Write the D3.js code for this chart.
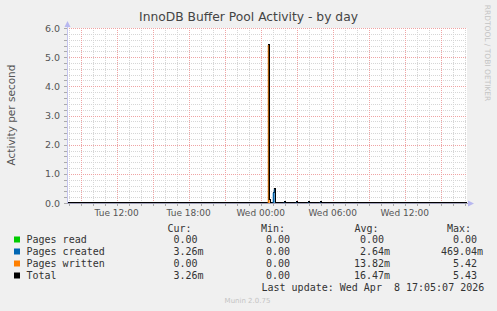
<!DOCTYPE html>
<html>
<head>
<meta charset="utf-8">
<script src="https://cdn.jsdelivr.net/npm/d3@7"></script>
<style>
  html, body { margin: 0; padding: 0; background: #f0f0f0; }
  text { white-space: pre; }
</style>
</head>
<body>
<div id="chart"></div>
<script>
// --- data (5 minute samples, zero elsewhere) ---
const sampleTimes = ['2026-04-08T00:40', '2026-04-08T00:45', '2026-04-08T01:05', '2026-04-08T01:10',
  '2026-04-08T02:00', '2026-04-08T03:00', '2026-04-08T04:00', '2026-04-08T05:00', '2026-04-08T17:10'];
const pagesRead = [0, 0, 0, 0, 0, 0, 0, 0, 0];
const pagesCreated = [0.01, 0, 0.35, 0.469, 0.025, 0.025, 0.025, 0.025, 0.00326];
const pagesWritten = [5.42, 0.1, 0, 0, 0, 0, 0, 0, 0];

const seriesNames = ['Pages read', 'Pages created', 'Pages written', 'Total'];
const seriesColors = ['#00cc00', '#0066b3', '#ff8000', '#000000'];
const legendCur = [0, 0.00326, 0, 0.00326];
const legendMin = [0, 0, 0, 0];
const legendAvg = [0, 0.00264, 0.01382, 0.01647];
const legendMax = [0, 0.46904, 5.42, 5.43];

const yTicks = [0, 1, 2, 3, 4, 5, 6];
const timeStart = new Date('2026-04-07T07:51:30');
const timeEnd = new Date('2026-04-08T17:11:30');
const lastUpdate = 'Last update: Wed Apr  8 17:05:07 2026';

const width = 497;
const height = 311;
const plot = {left: 67, right: 467, top: 28, bottom: 203};

const svg = d3.select('#chart')
  .append('svg')
  .attr('width', width)
  .attr('height', height)
  .style('display', 'block');

svg.append('rect')
  .attr('width', width)
  .attr('height', height)
  .attr('fill', '#f0f0f0');

const x = d3.scaleTime().domain([timeStart, timeEnd]).range([plot.left, plot.right]);
const y = d3.scaleLinear().domain([0, 6]).range([plot.bottom, plot.top]);

svg.append('rect')
  .attr('x', plot.left)
  .attr('y', plot.top)
  .attr('width', plot.right - plot.left)
  .attr('height', plot.bottom - plot.top)
  .attr('fill', '#ffffff');

// grid
const grid = svg.append('g').attr('shape-rendering', 'crispEdges');
const minorY = d3.range(0, 6.0001, 0.2).filter(v => Math.abs(v - Math.round(v)) > 1e-6);
const minorX = x.ticks(d3.timeHour.every(1)).filter(t => t.getHours() % 3 !== 0);
const majorX = x.ticks(d3.timeHour.every(3));
const minorColor = '#d6d6d6';
const majorColor = '#efa4a4';

grid.selectAll('.minor-y').data(minorY).enter().append('line')
  .attr('x1', plot.left).attr('x2', plot.right)
  .attr('y1', d => Math.round(y(d)) + 0.5).attr('y2', d => Math.round(y(d)) + 0.5)
  .attr('stroke', minorColor).attr('stroke-dasharray', '1,1');
grid.selectAll('.minor-x').data(minorX).enter().append('line')
  .attr('x1', d => Math.round(x(d)) + 0.5).attr('x2', d => Math.round(x(d)) + 0.5)
  .attr('y1', plot.top).attr('y2', plot.bottom)
  .attr('stroke', minorColor).attr('stroke-dasharray', '1,1');
grid.selectAll('.major-y').data(yTicks.filter(v => v > 0)).enter().append('line')
  .attr('x1', plot.left).attr('x2', plot.right)
  .attr('y1', d => Math.round(y(d)) + 0.5).attr('y2', d => Math.round(y(d)) + 0.5)
  .attr('stroke', majorColor).attr('stroke-dasharray', '1,1');
grid.selectAll('.major-x').data(majorX).enter().append('line')
  .attr('x1', d => Math.round(x(d)) + 0.5).attr('x2', d => Math.round(x(d)) + 0.5)
  .attr('y1', plot.top).attr('y2', plot.bottom)
  .attr('stroke', majorColor).attr('stroke-dasharray', '1,1');

// small tick marks outside the plot
grid.selectAll('.tick-y').data(minorY.concat(yTicks)).enter().append('line')
  .attr('x1', plot.left - 3).attr('x2', plot.left)
  .attr('y1', d => Math.round(y(d)) + 0.5).attr('y2', d => Math.round(y(d)) + 0.5)
  .attr('stroke', '#aaa');
grid.selectAll('.tick-x').data(x.ticks(d3.timeHour.every(1))).enter().append('line')
  .attr('x1', d => Math.round(x(d)) + 0.5).attr('x2', d => Math.round(x(d)) + 0.5)
  .attr('y1', plot.bottom).attr('y2', plot.bottom + 3)
  .attr('stroke', '#aaa');

// series on the 5 minute grid
const slots = d3.timeMinute.every(5).range(timeStart, timeEnd);
const lookup = arr => {
  const m = new Map(sampleTimes.map((t, i) => [new Date(t).getTime(), arr[i]]));
  return slots.map(t => ({t, v: m.get(t.getTime()) || 0}));
};
const pagesTotal = pagesRead.map((v, i) => v + pagesCreated[i] + pagesWritten[i]);
const seriesData = [lookup(pagesRead), lookup(pagesCreated), lookup(pagesWritten), lookup(pagesTotal)];

// total line sits one step to the right of the coloured series, as in the rrdtool picture
const totalLine = d3.line()
  .curve(d3.curveStepAfter)
  .x(d => x(d.t))
  .y(d => Math.round(y(d.v)) - 0.5);

const area = d3.area()
  .curve(d3.curveStepBefore)
  .x(d => x(d.t))
  .y0(plot.bottom)
  .y1(d => y(d.v));

const seriesG = svg.append('g');
seriesG.append('path')
  .datum(seriesData[3])
  .attr('d', totalLine)
  .attr('fill', 'none')
  .attr('stroke', seriesColors[3])
  .attr('stroke-width', 1)
  .attr('shape-rendering', 'crispEdges');
[0, 1, 2].forEach(i => {
  seriesG.append('path')
    .datum(seriesData[i])
    .attr('d', area)
    .attr('fill', seriesColors[i])
    .attr('fill-opacity', 0.9);
});

// axes lines and arrows
svg.append('line')
  .attr('x1', plot.left + 0.5).attr('x2', plot.left + 0.5)
  .attr('y1', plot.bottom).attr('y2', plot.top - 4)
  .attr('stroke', '#c4c4ee');
svg.append('line')
  .attr('x1', plot.left).attr('x2', plot.right + 3)
  .attr('y1', plot.bottom + 0.5).attr('y2', plot.bottom + 0.5)
  .attr('stroke', '#a0a0b8')
  .attr('shape-rendering', 'crispEdges');
svg.append('path')
  .attr('d', d3.line()([[plot.left - 2.5, plot.top - 1], [plot.left + 3.5, plot.top - 1], [plot.left + 0.5, plot.top - 7]]))
  .attr('fill', '#b8b8f0');
svg.append('path')
  .attr('d', d3.line()([[plot.right + 1, plot.bottom - 2.5], [plot.right + 1, plot.bottom + 3.5], [plot.right + 7, plot.bottom + 0.5]]))
  .attr('fill', '#b8b8f0');

// tick labels
const fontSans = 'DejaVu Sans, sans-serif';
const fontMono = 'DejaVu Sans Mono, monospace';

svg.append('g').selectAll('text').data(yTicks).enter().append('text')
  .attr('x', plot.left - 7)
  .attr('y', d => y(d) + 3.5)
  .attr('text-anchor', 'end')
  .attr('font-family', fontSans)
  .attr('font-size', 9.5)
  .attr('fill', '#555')
  .text(d3.format('.1f'));

const labelTimes = x.ticks(d3.timeHour.every(6));
svg.append('g').selectAll('text').data(labelTimes).enter().append('text')
  .attr('x', d => x(d))
  .attr('y', plot.bottom + 12.5)
  .attr('text-anchor', 'middle')
  .attr('font-family', fontSans)
  .attr('font-size', 9)
  .attr('fill', '#555')
  .text(d3.timeFormat('%a %H:%M'));

// title and axis label
svg.append('text')
  .attr('x', 248.5)
  .attr('y', 21)
  .attr('text-anchor', 'middle')
  .attr('font-family', fontSans)
  .attr('font-size', 12.3)
  .attr('fill', '#444')
  .text('InnoDB Buffer Pool Activity - by day');

svg.append('text')
  .attr('transform', 'translate(15,115) rotate(-90)')
  .attr('text-anchor', 'middle')
  .attr('font-family', fontSans)
  .attr('font-size', 10.5)
  .attr('fill', '#555')
  .text('Activity per second');

svg.append('text')
  .attr('transform', 'translate(485,53) rotate(90)')
  .attr('text-anchor', 'middle')
  .attr('font-family', fontSans)
  .attr('font-size', 7.5)
  .attr('fill', '#c4c4c4')
  .text('RRDTOOL / TOBI OETIKER');

// legend
const rowY = [239.5, 251.5, 263.5, 275.5];
const headerY = 228.5;
const colRight = [203.5, 296, 390, 483];
const colHeaderX = [167.5, 261, 354.5, 447];
const colHeaders = ['Cur:', 'Min:', 'Avg:', 'Max:'];
const charW = 6;

const fmt = v => {
  if (v === 0) return ['0.00', ''];
  if (Math.abs(v) < 1) return [(v * 1000).toFixed(2), 'm'];
  return [v.toFixed(2), ''];
};

const legend = svg.append('g')
  .attr('font-family', fontMono)
  .attr('font-size', 10)
  .attr('fill', '#333');

legend.selectAll('.hdr').data(colHeaders).enter().append('text')
  .attr('x', (d, i) => colHeaderX[i])
  .attr('y', headerY + 3.6)
  .text(d => d);

seriesNames.forEach((name, i) => {
  legend.append('rect')
    .attr('x', 14)
    .attr('y', rowY[i] - 3)
    .attr('width', 6)
    .attr('height', 6)
    .attr('fill', seriesColors[i]);
  legend.append('text')
    .attr('x', 26.5)
    .attr('y', rowY[i] + 3.6)
    .text(name);
  [legendCur[i], legendMin[i], legendAvg[i], legendMax[i]].forEach((v, c) => {
    const [num, suf] = fmt(v);
    legend.append('text')
      .attr('x', colRight[c] - charW)
      .attr('y', rowY[i] + 3.6)
      .attr('text-anchor', 'end')
      .text(num);
    if (suf) {
      legend.append('text')
        .attr('x', colRight[c] - charW)
        .attr('y', rowY[i] + 3.6)
        .text(suf);
    }
  });
});

legend.append('text')
  .attr('x', 261.5)
  .attr('y', 287.5 + 3.6)
  .text(lastUpdate);

svg.append('text')
  .attr('x', 247.5)
  .attr('y', 302.5)
  .attr('text-anchor', 'middle')
  .attr('font-family', fontSans)
  .attr('font-size', 7)
  .attr('fill', '#c4c4c4')
  .text('Munin 2.0.75');
</script>
</body>
</html>
